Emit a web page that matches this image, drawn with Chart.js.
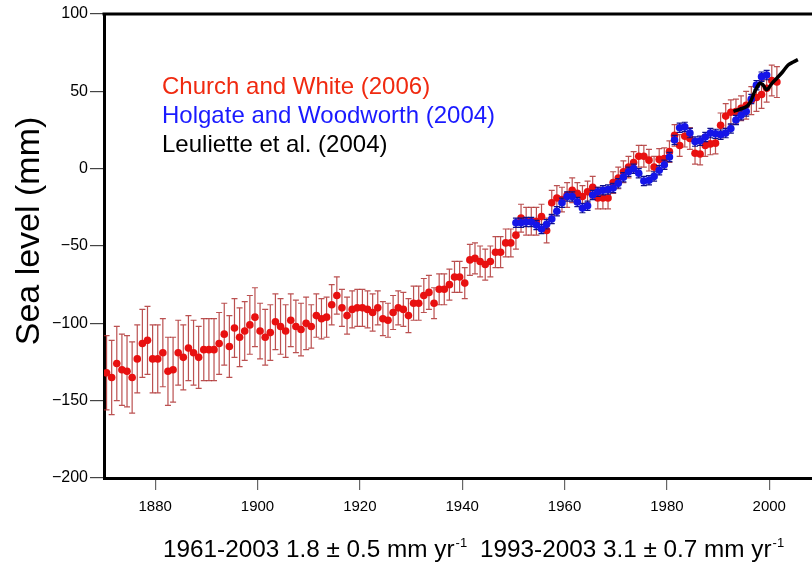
<!DOCTYPE html>
<html>
<head>
<meta charset="utf-8">
<script src="https://cdn.jsdelivr.net/npm/chart.js@4/dist/chart.umd.min.js"></script>
<style>
  html, body { margin: 0; padding: 0; background: #fff; }
  #wrap { width: 812px; height: 566px; position: relative; }
</style>
</head>
<body>
<div id="wrap"><canvas id="chart" width="812" height="566"></canvas></div>
<script>
// Church and White (2006), annual means (mm) with error half-widths
const cwYears = [
  1870.5, 1871.5, 1872.5, 1873.5, 1874.5, 1875.5, 1876.5, 1877.5, 1878.5, 1879.5,
  1880.5, 1881.5, 1882.5, 1883.5, 1884.5, 1885.5, 1886.5, 1887.5, 1888.5, 1889.5,
  1890.5, 1891.5, 1892.5, 1893.5, 1894.5, 1895.5, 1896.5, 1897.5, 1898.5, 1899.5,
  1900.5, 1901.5, 1902.5, 1903.5, 1904.5, 1905.5, 1906.5, 1907.5, 1908.5, 1909.5,
  1910.5, 1911.5, 1912.5, 1913.5, 1914.5, 1915.5, 1916.5, 1917.5, 1918.5, 1919.5,
  1920.5, 1921.5, 1922.5, 1923.5, 1924.5, 1925.5, 1926.5, 1927.5, 1928.5, 1929.5,
  1930.5, 1931.5, 1932.5, 1933.5, 1934.5, 1935.5, 1936.5, 1937.5, 1938.5, 1939.5,
  1940.5, 1941.5, 1942.5, 1943.5, 1944.5, 1945.5, 1946.5, 1947.5, 1948.5, 1949.5,
  1950.5, 1951.5, 1952.5, 1953.5, 1954.5, 1955.5, 1956.5, 1957.5, 1958.5, 1959.5,
  1960.5, 1961.5, 1962.5, 1963.5, 1964.5, 1965.5, 1966.5, 1967.5, 1968.5, 1969.5,
  1970.5, 1971.5, 1972.5, 1973.5, 1974.5, 1975.5, 1976.5, 1977.5, 1978.5, 1979.5,
  1980.5, 1981.5, 1982.5, 1983.5, 1984.5, 1985.5, 1986.5, 1987.5, 1988.5, 1989.5,
  1990.5, 1991.5, 1992.5, 1993.5, 1994.5, 1995.5, 1996.5, 1997.5, 1998.5, 1999.5,
  2000.5, 2001.5
];
const cwLevel = [
  -132, -135, -126, -130, -131, -135, -123, -113, -111, -123,
  -123, -119, -131, -130, -119, -122, -116, -119, -122, -117,
  -117, -117, -113, -107, -115, -103, -109, -105, -101, -96,
  -105, -109, -106, -99, -102, -105, -98, -102, -104, -100,
  -102, -95, -97, -96, -88, -82, -90, -95, -91, -90,
  -90, -91, -93, -90, -97, -98, -93, -90, -91, -95,
  -87, -87, -82, -80, -87, -78, -78, -75, -70, -70,
  -74, -59, -58, -60, -62, -60, -54, -54, -48, -48,
  -43, -32, -34, -34, -34, -31, -40, -22, -19, -20,
  -17, -14, -16, -18, -15, -12, -19, -19, -19, -9,
  -6, -2, 1, 4, 8, 8, 5.5, 1, 6, 6.5,
  11, 21.5, 15, 21, 19.5, 10, 9.5, 15, 16, 16.5,
  28, 34, 36.5, 37, 39, 41, 44, 46, 48, 52,
  57, 56
];
const cwError = [
  24, 24, 24, 23, 23, 23, 22, 22, 22, 22,
  22, 22, 22, 21, 21, 21, 21, 21, 20, 20,
  20, 20, 20, 20, 20, 19, 19, 19, 19, 19,
  18, 18, 18, 18, 18, 17, 17, 17, 17, 17,
  14, 14, 13, 13, 13, 12, 12, 12, 12, 12,
  12, 12, 12, 11, 11, 11, 11, 11, 11, 11,
  11, 11, 11, 11, 10, 10, 10, 10, 10, 10,
  10, 10, 10, 10, 10, 10, 10, 10, 9, 9,
  9, 9, 9, 9, 9, 8, 8, 8, 8, 8,
  8, 8, 7, 7, 7, 7, 7, 7, 7, 7,
  7, 7, 7, 7, 7, 7, 7, 7, 7, 7,
  7, 7, 7, 7, 7, 7, 7, 7, 7, 7,
  8, 8, 8, 8, 8, 9, 9, 9, 9, 9,
  10, 10
];

// Holgate and Woodworth (2004)
const hwYears = [
  1950.5, 1951.5, 1952.5, 1953.5, 1954.5, 1955.5, 1956.5, 1957.5, 1958.5, 1959.5,
  1960.5, 1961.5, 1962.5, 1963.5, 1964.5, 1965.5, 1966.5, 1967.5, 1968.5, 1969.5,
  1970.5, 1971.5, 1972.5, 1973.5, 1974.5, 1975.5, 1976.5, 1977.5, 1978.5, 1979.5,
  1980.5, 1981.5, 1982.5, 1983.5, 1984.5, 1985.5, 1986.5, 1987.5, 1988.5, 1989.5,
  1990.5, 1991.5, 1992.5, 1993.5, 1994.5, 1995.5, 1996.5, 1997.5, 1998.5, 1999.5
];
const hwLevel = [
  -35, -35, -34.5, -34.5, -36.4, -39, -36, -32.5, -27.5, -22,
  -18, -18, -21.5, -25.5, -24, -17, -15, -14, -13.5, -12.5,
  -9.5, -5.5, -2, 0, -3, -8, -7.5, -5, -1, 2.5,
  7.5, 18.5, 26.5, 27, 23, 17.5, 18, 20.5, 23, 22.5,
  22, 23, 26, 31.5, 34.5, 37, 45, 54, 59.5, 60.5
];
const hwError = [
  3, 3, 3, 3, 3, 3, 3, 3, 3, 3,
  3, 3, 3, 3, 3, 3, 3, 3, 3, 3,
  3, 3, 3, 3, 3, 3, 3, 3, 3, 3,
  3, 3, 3, 3, 3, 3, 3, 3, 3, 3,
  3, 3, 3, 3, 3, 3, 3, 3, 3, 3
];

// Leuliette et al. (2004), satellite altimetry
const llYears = [1993.0, 1994.3, 1995.5, 1996.3, 1997.2, 1998.1, 1998.7, 1999.5, 2000.5, 2001.5, 2002.6, 2003.7, 2004.7, 2005.6];
const llLevel = [37, 38.5, 40, 43, 50, 55, 54.5, 51, 55, 58.5, 62.5, 67, 69, 70.5];

const xTicks = [1880, 1900, 1920, 1940, 1960, 1980, 2000];

const FONT = '"Liberation Sans", Arial, Helvetica, sans-serif';

const toPoints = (xs, ys) => xs.map((x, i) => ({ x: x, y: ys[i] }));

const errorBars = {
    id: 'errorBars',
    beforeDatasetDraw(chart, args) {
        const ds = chart.data.datasets[args.index];
        if (!ds.errors) return;
        const { ctx, chartArea, scales: { x, y } } = chart;
        ctx.save();
        ctx.beginPath();
        ctx.rect(chartArea.left, chartArea.top, chartArea.width, chartArea.height);
        ctx.clip();
        ctx.strokeStyle = ds.errorColor;
        ctx.lineWidth = 1.2;
        ds.data.forEach((p, i) => {
            const px = x.getPixelForValue(p.x);
            const top = y.getPixelForValue(p.y + ds.errors[i]);
            const bot = y.getPixelForValue(p.y - ds.errors[i]);
            ctx.beginPath();
            ctx.moveTo(px, top); ctx.lineTo(px, bot);
            ctx.moveTo(px - 3, top); ctx.lineTo(px + 3, top);
            ctx.moveTo(px - 3, bot); ctx.lineTo(px + 3, bot);
            ctx.stroke();
        });
        ctx.restore();
    }
};

const annotations = {
    id: 'annotations',
    afterDraw(chart) {
        const { ctx, chartArea } = chart;
        ctx.save();
        // top frame line
        ctx.strokeStyle = '#000';
        ctx.lineWidth = 3;
        ctx.beginPath();
        ctx.moveTo(chartArea.left - 1.5, chartArea.top);
        ctx.lineTo(chartArea.right, chartArea.top);
        ctx.stroke();

        // legend
        ctx.textBaseline = 'middle';
        ctx.textAlign = 'left';
        ctx.font = '24px ' + FONT;
        ctx.fillStyle = '#f02a10';
        ctx.fillText('Church and White (2006)', 162, 87);
        ctx.fillStyle = '#1a1aff';
        ctx.fillText('Holgate and Woodworth (2004)', 162, 116);
        ctx.fillStyle = '#000';
        ctx.fillText('Leuliette et al. (2004)', 162, 145);

        // y axis title
        ctx.save();
        ctx.translate(30, 231);
        ctx.rotate(-Math.PI / 2);
        ctx.textAlign = 'center';
        ctx.font = '34px ' + FONT;
        ctx.fillText('Sea level (mm)', 0, 0);
        ctx.restore();

        // rates under the axis
        const rate = (x, text) => {
            ctx.textAlign = 'left';
            ctx.font = '24.3px ' + FONT;
            ctx.fillText(text, x, 550);
            const w = ctx.measureText(text).width;
            ctx.font = '13px ' + FONT;
            ctx.fillText('-1', x + w + 1, 543);
        };
        rate(163, '1961-2003 1.8 \u00b1 0.5 mm yr');
        rate(480, '1993-2003 3.1 \u00b1 0.7 mm yr');
        ctx.restore();
    }
};

new Chart(document.getElementById('chart'), {
    type: 'line',
    data: {
        datasets: [
            {
                label: 'Church and White (2006)',
                data: toPoints(cwYears, cwLevel),
                errors: cwError,
                errorColor: 'rgba(175, 50, 50, 0.85)',
                showLine: false,
                pointRadius: 3.8,
                pointBackgroundColor: '#e81010',
                pointBorderWidth: 0,
                order: 3,
            },
            {
                label: 'Holgate and Woodworth (2004)',
                data: toPoints(hwYears, hwLevel),
                errors: hwError,
                errorColor: '#10108a',
                showLine: false,
                pointRadius: 3.8,
                pointBackgroundColor: '#1515e8',
                pointBorderWidth: 0,
                order: 2,
            },
            {
                label: 'Leuliette et al. (2004)',
                data: toPoints(llYears, llLevel),
                borderColor: '#000',
                borderWidth: 3.5,
                pointRadius: 0,
                tension: 0.3,
                fill: false,
                order: 1,
            },
        ],
    },
    options: {
        responsive: false,
        animation: false,
        layout: { autoPadding: false, padding: { top: 14, right: 0, bottom: 0, left: 0 } },
        scales: {
            x: {
                type: 'linear',
                min: 1870,
                max: 2008.36,
                afterBuildTicks(axis) {
                    axis.ticks = xTicks.map(v => ({ value: v }));
                },
                afterFit(scale) { scale.height = 88; },
                border: { display: true, color: '#000', width: 3 },
                grid: {
                    drawOnChartArea: false,
                    drawTicks: true,
                    tickLength: 12,
                    color: '#666',
                    lineWidth: 1.2,
                },
                ticks: {
                    color: '#000',
                    padding: 8,
                    maxRotation: 0,
                    autoSkip: false,
                    font: { family: FONT, size: 15 },
                    callback: v => String(v),
                },
            },
            y: {
                min: -200,
                max: 100,
                afterFit(scale) { scale.width = 104; },
                border: { display: true, color: '#000', width: 3 },
                grid: {
                    drawOnChartArea: false,
                    drawTicks: true,
                    tickLength: 14,
                    color: '#444',
                    lineWidth: 1.2,
                },
                ticks: {
                    stepSize: 50,
                    color: '#000',
                    padding: 2,
                    font: { family: FONT, size: 16 },
                    callback: v => v < 0 ? '\u2212' + Math.abs(v) : String(v),
                },
            },
        },
        plugins: {
            legend: { display: false },
            tooltip: { enabled: false },
        },
    },
    plugins: [errorBars, annotations],
});
</script>
</body>
</html>
